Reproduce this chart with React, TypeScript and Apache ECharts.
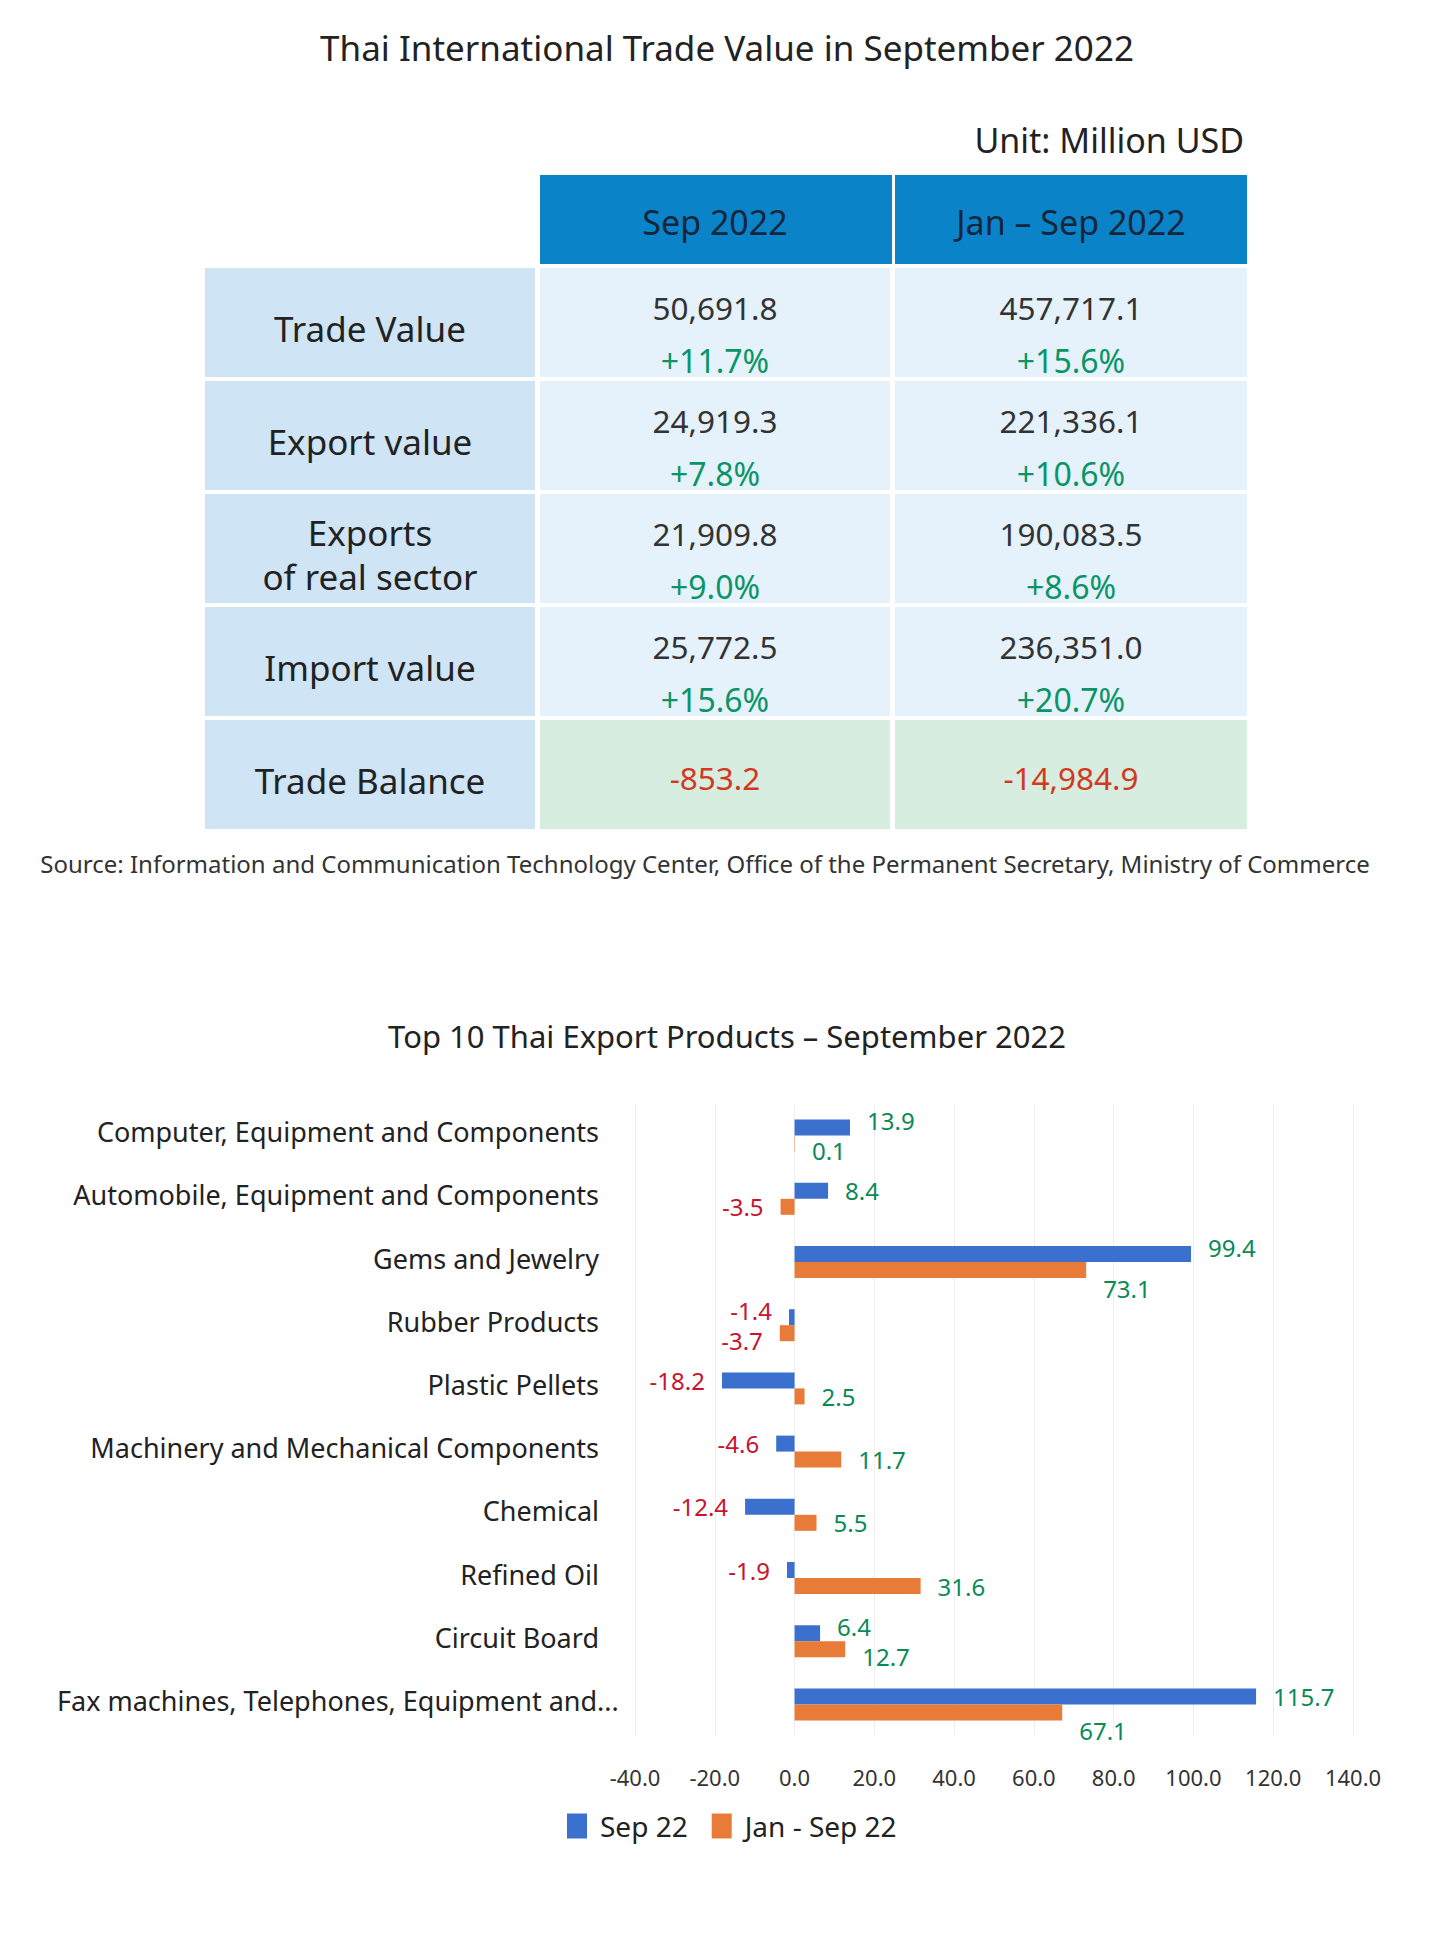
import React, { useEffect, useRef } from "react";
import * as echarts from "echarts";

// ---------- Table data ----------
const pageTitle = "Thai International Trade Value in September 2022";
const unitNote = "Unit: Million USD";
const columnHeaders = ["Sep 2022", "Jan – Sep 2022"];
const rowLabels = ["Trade Value", "Export value", "Exports\nof real sector", "Import value", "Trade Balance"];
const sepValues = ["50,691.8", "24,919.3", "21,909.8", "25,772.5", "-853.2"];
const sepGrowth = ["+11.7%", "+7.8%", "+9.0%", "+15.6%", ""];
const ytdValues = ["457,717.1", "221,336.1", "190,083.5", "236,351.0", "-14,984.9"];
const ytdGrowth = ["+15.6%", "+10.6%", "+8.6%", "+20.7%", ""];
const sourceNote =
  "Source: Information and Communication Technology Center, Office of the Permanent Secretary, Ministry of Commerce";

// ---------- Chart data ----------
const chartTitle = "Top 10 Thai Export Products – September 2022";
const categories = [
  "Computer, Equipment and Components",
  "Automobile, Equipment and Components",
  "Gems and Jewelry",
  "Rubber Products",
  "Plastic Pellets",
  "Machinery and Mechanical Components",
  "Chemical",
  "Refined Oil",
  "Circuit Board",
  "Fax machines, Telephones, Equipment and...",
];
const seriesNames = ["Sep 22", "Jan - Sep 22"];
const sep22 = [13.9, 8.4, 99.4, -1.4, -18.2, -4.6, -12.4, -1.9, 6.4, 115.7];
const janSep22 = [0.1, -3.5, 73.1, -3.7, 2.5, 11.7, 5.5, 31.6, 12.7, 67.1];

const FONT = '"Noto Sans", sans-serif';
const DARK = "#222222";
const GREEN_TXT = "#0b9466";
const RED_TXT = "#d2391f";
const LBL_GREEN = "#0a8a57";
const LBL_RED = "#c8142e";
const BLUE = "#3b70cf";
const ORANGE = "#e87b37";

function buildGraphics() {
  const g: any[] = [];
  g.push({
    type: "text", x: 727, y: 47,
    style: { text: pageTitle, font: `35px ${FONT}`, fill: DARK, textAlign: "center", textVerticalAlign: "middle" },
  });
  g.push({
    type: "text", x: 1244, y: 140,
    style: { text: unitNote, font: `34px ${FONT}`, fill: DARK, textAlign: "right", textVerticalAlign: "middle" },
  });
  const labelX = 205, labelW = 330;
  const colX = [540, 895];
  const colW = [350, 352];
  colX.forEach((x, i) => {
    g.push({ type: "rect", shape: { x, y: 175, width: colW[i] + (i === 0 ? 2 : 0), height: 89 }, style: { fill: "#0b83c9" } });
    g.push({
      type: "text", x: x + colW[i] / 2, y: 222,
      style: { text: columnHeaders[i], font: `34px ${FONT}`, fill: "#14263a", textAlign: "center", textVerticalAlign: "middle" },
    });
  });
  rowLabels.forEach((lab, r) => {
    const top = 268 + r * 113;
    const h = 109;
    const isBal = r === rowLabels.length - 1;
    g.push({ type: "rect", shape: { x: labelX, y: top, width: labelW, height: h }, style: { fill: "#cfe5f6" } });
    g.push({
      type: "text", x: labelX + labelW / 2, y: top + 60,
      style: { text: lab, font: `35px ${FONT}`, fill: DARK, textAlign: "center", textVerticalAlign: "middle", lineHeight: 44 },
    });
    const vals = [sepValues[r], ytdValues[r]];
    const grs = [sepGrowth[r], ytdGrowth[r]];
    colX.forEach((x, c) => {
      g.push({ type: "rect", shape: { x, y: top, width: colW[c], height: h }, style: { fill: isBal ? "#d7ede0" : "#e5f2fc" } });
      if (isBal) {
        g.push({
          type: "text", x: x + colW[c] / 2, y: top + 57,
          style: { text: vals[c], font: `31.5px ${FONT}`, fill: RED_TXT, textAlign: "center", textVerticalAlign: "middle" },
        });
      } else {
        g.push({
          type: "text", x: x + colW[c] / 2, y: top + 39,
          style: { text: vals[c], font: `31.5px ${FONT}`, fill: "#333333", textAlign: "center", textVerticalAlign: "middle" },
        });
        g.push({
          type: "text", x: x + colW[c] / 2, y: top + 92,
          style: { text: grs[c], font: `32px ${FONT}`, fill: GREEN_TXT, textAlign: "center", textVerticalAlign: "middle" },
        });
      }
    });
  });
  g.push({
    type: "text", x: 705, y: 863,
    style: { text: sourceNote, font: `24px ${FONT}`, fill: "#333333", textAlign: "center", textVerticalAlign: "middle" },
  });
  g.push({
    type: "text", x: 727, y: 1036,
    style: { text: chartTitle, font: `31px ${FONT}`, fill: DARK, textAlign: "center", textVerticalAlign: "middle" },
  });
  return g;
}

// Label placement like the spreadsheet: when both labels of a category sit on the
// same side and close together, nudge them apart; big orange labels drop below.
function mkData(vals: number[], other: number[], isOrange: boolean) {
  return vals.map((v, i) => {
    const o = other[i];
    const sameSide = (v < 0) === (o < 0);
    const close = sameSide && Math.abs(v - o) < 30;
    let dy = 0;
    if (close) dy = isOrange ? 7 : -7;
    if (isOrange && v >= 50) dy = 18;
    return {
      value: v,
      label: {
        position: v < 0 ? "left" : "right",
        color: v < 0 ? LBL_RED : LBL_GREEN,
        offset: [0, dy],
      },
    };
  });
}

export default function App() {
  const ref = useRef<HTMLDivElement>(null);
  useEffect(() => {
    if (!ref.current) return;
    const chart = echarts.init(ref.current, undefined, { renderer: "svg" });
    const labelBase = {
      show: true,
      distance: 17,
      fontSize: 24,
      fontFamily: FONT,
      formatter: (p: any) => Number(p.value).toFixed(1),
    };
    const lastCat = categories[categories.length - 1];
    chart.setOption({
      animation: false,
      backgroundColor: "#ffffff",
      textStyle: { fontFamily: FONT },
      graphic: buildGraphics(),
      legend: {
        left: 567,
        top: 1812,
        padding: 0,
        icon: "rect",
        itemWidth: 20,
        itemHeight: 25,
        itemGap: 24,
        textStyle: { fontSize: 28, color: DARK, fontFamily: FONT, padding: [0, 0, 0, 8] },
        data: seriesNames,
      },
      grid: { left: 635, right: 83, top: 1104, bottom: 202, containLabel: false },
      xAxis: {
        type: "value",
        min: -40,
        max: 140,
        interval: 20,
        axisLine: { show: false },
        axisTick: { show: false },
        splitLine: { show: true, lineStyle: { color: "#eeeeee", width: 1 } },
        axisLabel: {
          margin: 30,
          fontSize: 22,
          color: "#333333",
          fontFamily: FONT,
          formatter: (v: number) => v.toFixed(1),
        },
      },
      yAxis: {
        type: "category",
        inverse: true,
        data: categories,
        axisLine: { show: false },
        axisTick: { show: false },
        axisLabel: {
          margin: 36,
          fontSize: 27,
          color: DARK,
          fontFamily: FONT,
          padding: [0, 0, 8, 0],
          formatter: (v: string) => (v === lastCat ? `{long|${v}}` : v),
          rich: {
            long: { fontSize: 27, color: DARK, fontFamily: FONT, width: 542, align: "left", padding: [0, 0, 0, 0] },
          },
        },
      },
      series: [
        {
          name: seriesNames[0],
          type: "bar",
          barWidth: 16,
          barGap: "0%",
          itemStyle: { color: BLUE },
          label: labelBase,
          data: mkData(sep22, janSep22, false),
        },
        {
          name: seriesNames[1],
          type: "bar",
          barWidth: 16,
          barGap: "0%",
          itemStyle: { color: ORANGE },
          label: labelBase,
          data: mkData(janSep22, sep22, true),
        },
      ],
    });
    return () => chart.dispose();
  }, []);
  return (
    <div
      ref={ref}
      style={{ position: "absolute", left: 0, top: 0, width: 1436, height: 1938, background: "#fff" }}
    />
  );
}
